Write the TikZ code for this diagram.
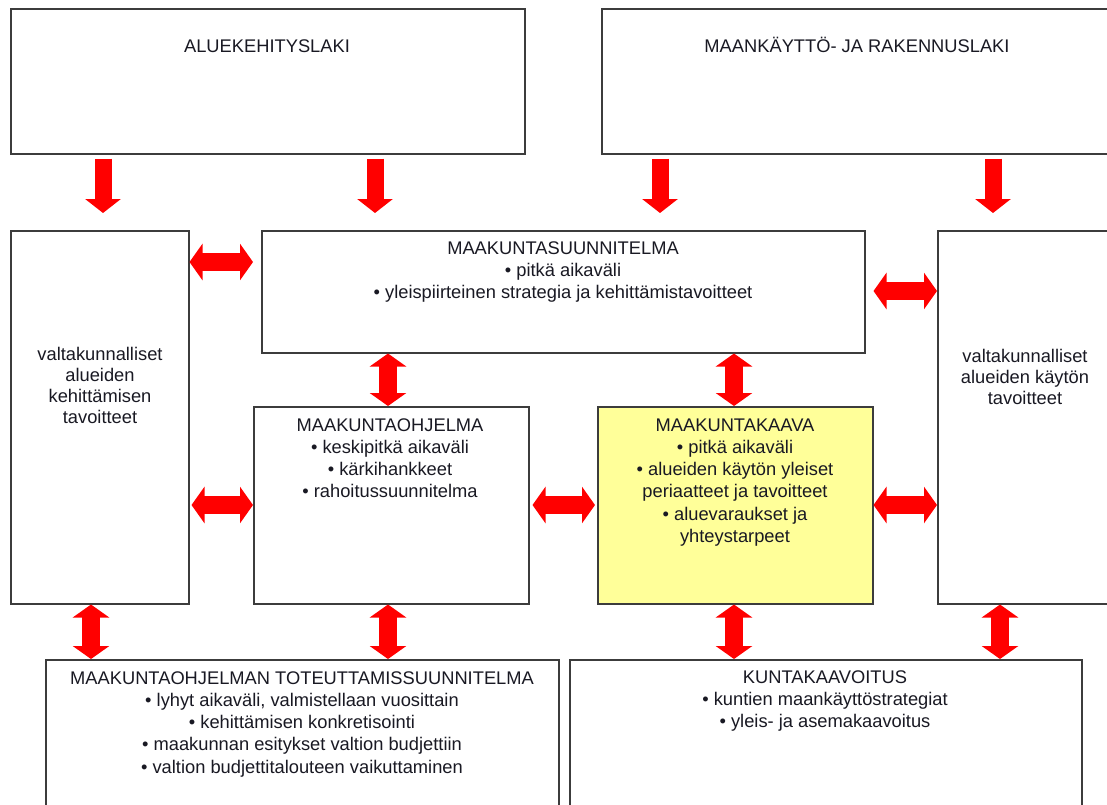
\documentclass[tikz,border=0pt]{standalone}
\usepackage{fontspec}
\setmainfont{Liberation Sans}
\usetikzlibrary{arrows.meta,calc}
\definecolor{boxline}{RGB}{60,60,60}
\definecolor{kaavafill}{RGB}{255,255,153}
\definecolor{txtcol}{RGB}{25,25,35}
\begin{document}
\begin{tikzpicture}[x=1pt,y=-1pt,
  box/.style={draw=boxline, line width=1.5pt, fill=white, rectangle, inner sep=0pt, anchor=north west},
  txt/.style={inner sep=0pt, align=center, text=txtcol, anchor=base, font=\fontsize{18.3}{22.3}\selectfont},
  sidetxt/.style={txt, font=\fontsize{18.3}{21}\selectfont},
  redarrow/.style={draw=red, line width=17pt, -{Triangle[length=14pt,width=35pt]}},
  dblarrow/.style={draw=red, line width=18pt, {Triangle[length=13pt,width=36pt]}-{Triangle[length=13pt,width=36pt]}}
]
\useasboundingbox (0,0) rectangle (1107,804);
\clip (0,0) rectangle (1107,804);
\fill[white] (0,0) rectangle (1107,804);

% boxes
\node[box, minimum width=514pt, minimum height=145pt] (top1) at (10,8) {};
\node[box, minimum width=512pt, minimum height=145pt] (top2) at (601,8) {};
\node[box, minimum width=178pt, minimum height=373pt] (left) at (10,230) {};
\node[box, minimum width=603pt, minimum height=122pt] (suun) at (261,230) {};
\node[box, minimum width=176pt, minimum height=373pt] (right) at (937,230) {};
\node[box, minimum width=275pt, minimum height=197pt] (ohj) at (253,406) {};
\node[box, fill=kaavafill, minimum width=275pt, minimum height=197pt] (kaava) at (597,406) {};
\node[box, minimum width=513pt, minimum height=180pt] (botL) at (45,659) {};
\node[box, minimum width=512pt, minimum height=180pt] (botR) at (569,659) {};

% texts (base anchor = baseline of the last line)
\node[txt] (top1t) at (267,52) {ALUEKEHITYSLAKI};
\node[txt] (top2t) at (857,52) {MAANKÄYTTÖ- JA RAKENNUSLAKI};
\node[sidetxt] (leftt) at (100,423) {valtakunnalliset\\alueiden\\kehittämisen\\tavoitteet};
\node[sidetxt] (rightt) at (1025,404) {valtakunnalliset\\alueiden käytön\\tavoitteet};
\node[txt] (suunt) at (563,298.6) {MAAKUNTASUUNNITELMA\\• pitkä aikaväli\\• yleispiirteinen strategia ja kehittämistavoitteet};
\node[txt] (ohjt) at (390,497.9) {MAAKUNTAOHJELMA\\• keskipitkä aikaväli\\• kärkihankkeet\\• rahoitussuunnitelma};
\node[txt] (kaavat) at (735,542.5) {MAAKUNTAKAAVA\\• pitkä aikaväli\\• alueiden käytön yleiset\\periaatteet ja tavoitteet\\• aluevaraukset ja\\yhteystarpeet};
\node[txt] (botLt) at (302,773.2) {MAAKUNTAOHJELMAN TOTEUTTAMISSUUNNITELMA\\• lyhyt aikaväli, valmistellaan vuosittain\\• kehittämisen konkretisointi\\• maakunnan esitykset valtion budjettiin\\• valtion budjettitalouteen vaikuttaminen};
\node[txt] (botRt) at (825,727.6) {KUNTAKAAVOITUS\\• kuntien maankäyttöstrategiat\\• yleis- ja asemakaavoitus};

% helper coordinates
\coordinate (xa) at (103,0);
\coordinate (xb) at (375,0);
\coordinate (xc) at (660,0);
\coordinate (xd) at (993,0);
\coordinate (xe) at (388,0);
\coordinate (xf) at (734,0);
\coordinate (xg) at (91,0);
\coordinate (xh) at (1000,0);
\coordinate (ya) at (0,262);
\coordinate (yb) at (0,291);
\coordinate (yc) at (0,505);

% down arrows
\draw[redarrow] ($(top1.south -| xa)+(0,4)$) -- ($(left.north -| xa)+(0,-17)$);
\draw[redarrow] ($(top1.south -| xb)+(0,4)$) -- ($(suun.north -| xb)+(0,-17)$);
\draw[redarrow] ($(top2.south -| xc)+(0,4)$) -- ($(suun.north -| xc)+(0,-17)$);
\draw[redarrow] ($(top2.south -| xd)+(0,4)$) -- ($(right.north -| xd)+(0,-17)$);

% horizontal double arrows
\draw[dblarrow] (left.east |- ya) -- ($(suun.west |- ya)+(-8,0)$);
\draw[dblarrow] ($(suun.east |- yb)+(8,0)$) -- (right.west |- yb);
\draw[dblarrow] ($(left.east |- yc)+(2,0)$) -- (ohj.west |- yc);
\draw[dblarrow] ($(ohj.east |- yc)+(3,0)$) -- ($(kaava.west |- yc)+(-2,0)$);
\draw[dblarrow] (kaava.east |- yc) -- (right.west |- yc);

% vertical double arrows
\draw[dblarrow] (suun.south -| xe) -- (ohj.north -| xe);
\draw[dblarrow] (suun.south -| xf) -- (kaava.north -| xf);
\draw[dblarrow] (left.south -| xg) -- (botL.north -| xg);
\draw[dblarrow] (ohj.south -| xe) -- (botL.north -| xe);
\draw[dblarrow] (kaava.south -| xf) -- (botR.north -| xf);
\draw[dblarrow] (right.south -| xh) -- (botR.north -| xh);
\end{tikzpicture}
\end{document}
